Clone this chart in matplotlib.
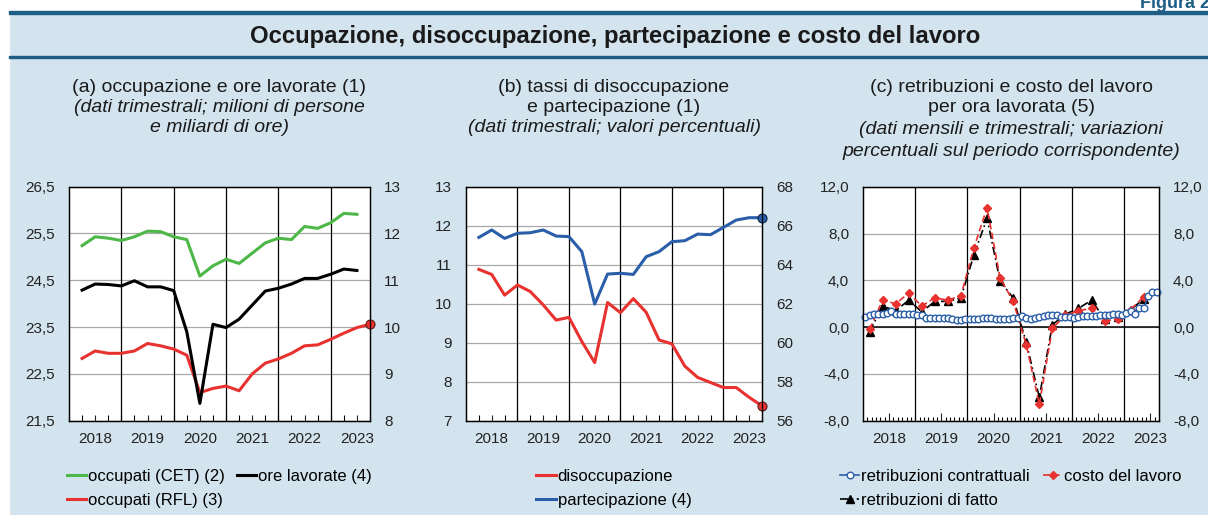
import numpy as np
import matplotlib as mpl
mpl.use('agg')
import matplotlib.pyplot as plt
from matplotlib.patches import Rectangle

plt.rcParams['font.family'] = ['Liberation Sans', 'DejaVu Sans']

## dati
anni = ['2018', '2019', '2020', '2021', '2022', '2023']

# (a) dati trimestrali, 2018T1 .. 2023T3
occ_cet = [25.24, 25.43, 25.40, 25.35, 25.43, 25.55, 25.54, 25.43, 25.37, 24.59, 24.81,
           24.95, 24.86, 25.08, 25.30, 25.40, 25.37, 25.65, 25.61, 25.73, 25.93, 25.91]
ore_lav = [10.79, 10.92, 10.91, 10.88, 10.99, 10.86, 10.86, 10.78, 9.90, 8.37, 10.06,
           9.99, 10.17, 10.47, 10.77, 10.83, 10.92, 11.04, 11.04, 11.13, 11.24, 11.21]
occ_rfl = [22.83, 22.99, 22.94, 22.94, 22.99, 23.15, 23.10, 23.03, 22.90, 22.10, 22.19,
           22.24, 22.14, 22.50, 22.73, 22.82, 22.94, 23.10, 23.12, 23.24, 23.37, 23.49, 23.56]

# (b) tassi, 2018T1 .. 2023T3
disocc = [10.88, 10.75, 10.22, 10.48, 10.31, 9.97, 9.58, 9.65, 9.03, 8.49, 10.03, 9.77,
          10.13, 9.78, 9.07, 8.97, 8.40, 8.11, 7.98, 7.85, 7.85, 7.60, 7.38]
partec = [65.40, 65.78, 65.35, 65.61, 65.64, 65.78, 65.47, 65.44, 64.67, 61.98, 63.52,
          63.56, 63.50, 64.41, 64.67, 65.18, 65.23, 65.57, 65.54, 65.91, 66.29, 66.41, 66.41]

# (c) retribuzioni contrattuali mensili, gen 2018 .. ago 2023
retr_contr = [0.86, 1.06, 1.09, 1.11, 1.14, 1.20, 1.34, 1.11, 1.09, 1.09, 1.09, 1.09,
              1.06, 1.00, 0.77, 0.77, 0.80, 0.80, 0.80, 0.77, 0.71, 0.63, 0.63, 0.66,
              0.66, 0.66, 0.71, 0.77, 0.77, 0.77, 0.66, 0.66, 0.66, 0.71, 0.77, 0.77,
              0.92, 0.80, 0.72, 0.80, 0.83, 0.91, 1.00, 1.00, 1.00, 0.83, 0.83, 0.85,
              0.78, 0.83, 0.97, 0.97, 0.97, 0.97, 1.03, 1.03, 1.05, 1.09, 1.09, 1.06,
              1.20, 1.34, 1.09, 1.63, 1.63, 2.65, 3.02, 3.02]
# costo del lavoro e retribuzioni di fatto, trimestrali 2018T1 .. 2023T2
costo_lav = [-0.2, 2.3, 2.0, 2.9, 1.8, 2.5, 2.3, 2.7, 6.8, 10.2, 4.2, 2.2,
             -1.5, -6.6, -0.1, 1.0, 1.4, 1.6, 0.5, 0.7, 1.5, 2.6]
retr_fatto = [-0.4, 1.8, 1.4, 2.3, 1.3, 2.2, 2.2, 2.5, 6.2, 9.3, 3.9, 2.5,
              -1.3, -6.0, 0.2, 1.1, 1.6, 2.3, 0.7, 0.9, 1.5, 2.4]

BG = '#d3e4ee'
DARK = '#1d5d86'
GREEN = '#4db848'
RED = '#e8322f'
BLUE = '#2a5ea9'
GRID = '#a8a8a8'
FS = 11
FS_LEG = 12
FS_TIT = 14

W, H = 1208, 515
fig = plt.figure(figsize=(W / 100, H / 100), dpi=100, facecolor=BG)

# cornice: margine bianco, righe della testata
fig.patches.append(Rectangle((0, 0), 9 / W, 1, transform=fig.transFigure, color='white', zorder=0))
fig.patches.append(Rectangle((0, 1 - 11 / H), 1, 11 / H, transform=fig.transFigure, color='white', zorder=0))
fig.patches.append(Rectangle((9 / W, 1 - 14 / H), 1, 3 / H, transform=fig.transFigure, color=DARK, zorder=1))
fig.patches.append(Rectangle((9 / W, 1 - 58 / H), 1, 2 / H, transform=fig.transFigure, color=DARK, zorder=1))
fig.text(1210 / W, 1 - 8 / H, 'Figura 2', ha='right', va='baseline', fontsize=13,
         fontweight='bold', color=DARK)
fig.text(615 / W, 1 - 37 / H, 'Occupazione, disoccupazione, partecipazione e costo del lavoro',
         ha='center', va='center', fontsize=17.2, fontweight='bold', color='#1a1a1a')


def px_axes(left, right, top=186.7, bottom=420.7):
    return fig.add_axes([left / W, 1 - bottom / H, (right - left) / W, (bottom - top) / H])


def style_y(ax, ticks, labels):
    ax.set_yticks(ticks, labels=labels)
    ax.tick_params(axis='y', length=0, pad=10, labelsize=FS, colors='#222222')
    for s in ax.spines.values():
        s.set_color('black')
        s.set_linewidth(0.9)


def style_x(ax, n, step, minor_len, major_len):
    ax.set_xlim(0, n)
    centers = [step / 2 + step * i for i in range(len(anni))]
    ax.set_xticks(centers, labels=anni)
    ax.set_xticks(np.arange(1, n), minor=True)
    ax.tick_params(axis='x', which='major', direction='in', length=major_len, width=0.8,
                   pad=8, labelsize=FS, colors='#222222')
    ax.tick_params(axis='x', which='minor', direction='in', length=minor_len, width=0.8)
    for i in range(1, len(anni)):
        if step * i < n:
            ax.axvline(step * i, color='black', lw=0.9, zorder=1)
    ax.yaxis.grid(True, color=GRID, lw=0.9, zorder=0)
    ax.set_axisbelow(True)


def titles(ax, lines):
    for txt, y, it in lines:
        ax.text(0.5, (420.7 - y) / 234, txt, transform=ax.transAxes, ha='center', va='center',
                fontsize=FS_TIT, style='italic' if it else 'normal', color='#1a1a1a')


def legend(ax, handles, ncol, colsp):
    ax.legend(handles=handles, loc='upper center', bbox_to_anchor=(0.5, -0.172), ncol=ncol,
              frameon=False, fontsize=FS_LEG, handlelength=1.15, handletextpad=0.12,
              columnspacing=colsp, labelspacing=0.5, borderpad=0)


# ---------------- (a)
ax = px_axes(69, 370)
xq = np.arange(1, len(occ_rfl) + 1)
style_x(ax, 23, 4, 4, 4)
ax.set_ylim(21.5, 26.5)
style_y(ax, [21.5, 22.5, 23.5, 24.5, 25.5, 26.5], ['21,5', '22,5', '23,5', '24,5', '25,5', '26,5'])
l_cet, = ax.plot(xq[:len(occ_cet)], occ_cet, color=GREEN, lw=2.2, zorder=3, label='occupati (CET) (2)')
l_rfl, = ax.plot(xq, occ_rfl, color=RED, lw=2.2, zorder=3, label='occupati (RFL) (3)')
ax.plot(xq[-1:], occ_rfl[-1:], 'o', color=RED, mec='#5a1a1a', mew=0.8, ms=6.5, zorder=5, clip_on=False)
ax2 = ax.twinx()
ax2.set_ylim(8, 13)
style_y(ax2, [8, 9, 10, 11, 12, 13], ['8', '9', '10', '11', '12', '13'])
l_ore, = ax2.plot(xq[:len(ore_lav)], ore_lav, color='black', lw=2.2, label='ore lavorate (4)')
titles(ax, [('(a) occupazione e ore lavorate (1)', 88, False),
            ('(dati trimestrali; milioni di persone', 108, True),
            ('e miliardi di ore)', 128, True)])
legend(ax, [l_cet, l_rfl, l_ore], 2, 0.7)

# ---------------- (b)
ax = px_axes(466, 762)
xq = np.arange(1, len(disocc) + 1)
style_x(ax, 23, 4, 4, 4)
ax.set_ylim(7, 13)
style_y(ax, range(7, 14), [str(v) for v in range(7, 14)])
l_dis, = ax.plot(xq, disocc, color=RED, lw=2.2, zorder=3, label='disoccupazione')
ax.plot(xq[-1:], disocc[-1:], 'o', color=RED, mec='#5a1a1a', mew=0.8, ms=6.5, zorder=5, clip_on=False)
ax2 = ax.twinx()
ax2.set_ylim(56, 68)
style_y(ax2, range(56, 69, 2), [str(v) for v in range(56, 69, 2)])
l_par, = ax2.plot(xq, partec, color=BLUE, lw=2.2, label='partecipazione (4)')
ax2.plot(xq[-1:], partec[-1:], 'o', color=BLUE, mec='#10254a', mew=0.8, ms=6.5, clip_on=False)
titles(ax, [('(b) tassi di disoccupazione', 88, False),
            ('e partecipazione (1)', 108, False),
            ('(dati trimestrali; valori percentuali)', 128, True)])
legend(ax, [l_dis, l_par], 1, 0.7)

# ---------------- (c)
ax = px_axes(863, 1159)
xm = np.arange(len(retr_contr)) + 0.5
xt = 1.5 + 3 * np.arange(len(costo_lav))
style_x(ax, 68, 12, 3, 5.5)
ax.set_ylim(-8, 12)
yt = [-8, -4, 0, 4, 8, 12]
ylab = ['-8,0', '-4,0', '0,0', '4,0', '8,0', '12,0']
style_y(ax, yt, ylab)
ax.axhline(0, color='black', lw=1.1, zorder=2)
l_fat, = ax.plot(xt, retr_fatto, color='black', lw=1.2, ls=(0, (5, 2, 1, 2)), marker='^', ms=5.5,
                 zorder=3, label='retribuzioni di fatto')
l_cos, = ax.plot(xt, costo_lav, color=RED, lw=1.2, ls=(0, (4, 2)), marker='D', ms=4.5,
                 zorder=4, label='costo del lavoro')
l_con, = ax.plot(xm, retr_contr, color=BLUE, lw=1.2, marker='o', ms=4.8, mfc='white', mec=BLUE,
                 mew=1.0, zorder=5, label='retribuzioni contrattuali', clip_on=False)
ax2 = ax.twinx()
ax2.set_ylim(-8, 12)
style_y(ax2, yt, ylab)
titles(ax, [('(c) retribuzioni e costo del lavoro', 88, False),
            ('per ora lavorata (5)', 108, False),
            ('(dati mensili e trimestrali; variazioni', 130, True),
            ('percentuali sul periodo corrispondente)', 151, True)])
legend(ax, [l_con, l_fat, l_cos], 2, 0.8)

plt.savefig('out.png', dpi=100, facecolor=BG)
plt.close()
